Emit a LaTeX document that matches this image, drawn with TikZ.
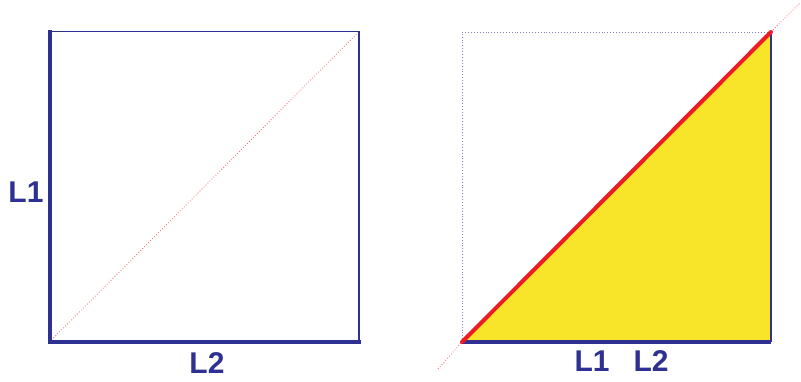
\documentclass[tikz,border=0pt]{standalone}
\usepackage{fontspec}
\setmainfont{Liberation Sans}
\definecolor{sideblue}{HTML}{2E3192}
\definecolor{hypred}{HTML}{ED1C24}
\definecolor{fillyellow}{HTML}{F8E52A}
\tikzset{
    lenlabel/.style={font=\fontsize{30}{36}\selectfont\bfseries, text=sideblue, inner sep=0pt},
    thickside/.style={sideblue, line width=4pt},
    thinside/.style={sideblue, line width=1.8pt},
    diagdot/.style={hypred!70, line width=0.8pt, dotted},
    boxdot/.style={sideblue!60, line width=0.9pt, dotted}
}
\begin{document}
\begin{tikzpicture}[x=1pt, y=-1pt]
    \useasboundingbox (0,0) rectangle (801,381);

    % left square
    \coordinate (A) at (49.5,342);
    \coordinate (B) at (359,342);
    \coordinate (C) at (359,31.5);
    \coordinate (D) at (49.5,31.5);
    \draw[diagdot] (A) -- (C);
    \draw[thinside] (D) -- (C) -- (B);
    \draw[thickside, line cap=rect] (B) -- (A) -- (D);

    \node[lenlabel] (l1left) at (26,192) {L1};
    \node[lenlabel] (l2left) at (207,363) {L2};

    % right triangle
    \coordinate (P) at (462,342);
    \coordinate (Q) at (771,342);
    \coordinate (R) at (771,32);
    \coordinate (S) at (462,32);
    \draw[boxdot] (P) -- (S) -- (R);
    \fill[fillyellow] (P) -- (Q) -- (R) -- cycle;
    \draw[diagdot] (438,369) -- (P);
    \draw[diagdot] (R) -- (800,3);
    \draw[thinside] (Q) -- (R);
    \draw[thickside] (P) -- (Q);
    \draw[hypred, line width=4pt, line cap=round] (P) -- (R);

    \node[lenlabel] (l1right) at (592,361) {L1};
    \node[lenlabel] (l2right) at (651,361) {L2};
\end{tikzpicture}
\end{document}
